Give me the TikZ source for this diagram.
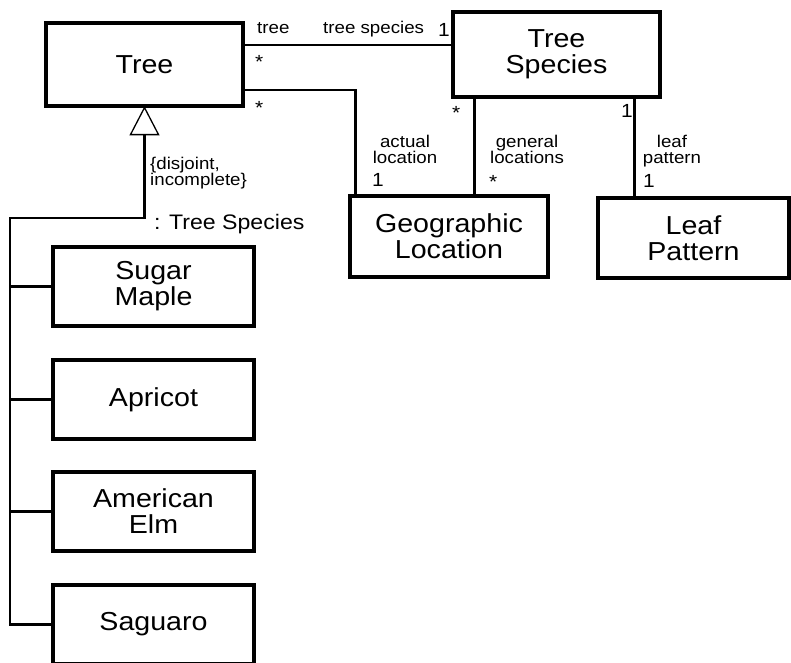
\documentclass[tikz,border=0pt]{standalone}
\usepackage{fontspec}
\setmainfont{Liberation Sans}[FakeStretch=1.1]
\usetikzlibrary{positioning}

\begin{document}
\begin{tikzpicture}[x=1pt, y=-1pt,
    cls/.style={rectangle, draw, line width=3.2pt, align=center,
                inner sep=0pt, font=\fontsize{26}{26}\selectfont},
    sub/.style={cls, minimum width=201pt, minimum height=79pt},
    lbl/.style={inner sep=0pt, align=center, font=\fontsize{17}{16}\selectfont},
    mult/.style={inner sep=0pt, font=\fontsize{19}{19}\selectfont},
    link/.style={line width=2.8pt},
    gen/.style={line width=2.4pt}
  ]
  \useasboundingbox (0,0) rectangle (791,662);
  \clip (0,0) rectangle (791,662);

  % Classes
  \node[cls, minimum width=197pt, minimum height=83pt] (tree) at (144.5,64.5) {Tree};
  \node[cls, minimum width=207pt, minimum height=85pt] (spec) at (556.5,54.5) {Tree\\Species};
  \node[cls, minimum width=198pt, minimum height=81pt] (geo)  at (449,236.5) {Geographic\\Location};
  \node[cls, minimum width=191pt, minimum height=80pt] (leaf) at (693.5,238) {Leaf\\Pattern};

  % Subclasses
  \node[sub] (maple)   at (153.5,286.5) {Sugar\\Maple};
  \node[sub] (apricot) at (153.5,399.5) {Apricot};
  \node[sub] (elm)     at (153.5,511.5) {American\\Elm};
  \node[sub] (saguaro) at (153.5,624.5) {Saguaro};

  % Associations
  \draw[link] ([yshift=19.5pt]tree.east) -- ([yshift=19.5pt]tree.east -| spec.west);
  \draw[link] ([yshift=-25.5pt]tree.east) -| ([xshift=7pt]geo.north west);
  \draw[link] ([xshift=23pt]spec.south west) -- ([xshift=23pt]spec.south west |- geo.north);
  \draw[link] ([xshift=-27pt]spec.south east) -- ([xshift=-27pt]spec.south east |- leaf.north);

  % Role names and multiplicities
  \node[lbl, anchor=base west] (rTree) at (257,33) {tree};
  \node[lbl, anchor=base west] (rSpec) at (323,33) {tree species};
  \node[mult, anchor=base west] (m1) at (438,36) {1};
  \node[mult, anchor=base west] (m2) at (255,68) {*};
  \node[mult, anchor=base west] (m3) at (255,114) {*};
  \node[lbl, anchor=base] (rActual) at (405,163) {actual\\location};
  \node[mult, anchor=base west] (m4) at (372,186) {1};
  \node[mult, anchor=base west] (m5) at (452,119) {*};
  \node[lbl, anchor=base] (rGeneral) at (527,163) {general\\locations};
  \node[mult, anchor=base west] (m6) at (489,188) {*};
  \node[mult, anchor=base west] (m7) at (621,117) {1};
  \node[lbl, anchor=base] (rLeaf) at (672,163) {leaf\\pattern};
  \node[mult, anchor=base west] (m8) at (643,187) {1};

  % Generalization
  \coordinate (tri) at ([yshift=-27pt]tree.south);
  \coordinate (trunk) at (10,218);
  \draw[line width=1.3pt] (tree.south) -- ([xshift=-14pt]tri) -- ([xshift=14pt]tri) -- cycle;
  \draw[gen] (tri) |- (trunk) |- (saguaro.west);
  \foreach \s in {maple, apricot, elm}
    \draw[gen] (\s.west) -- (trunk |- \s.west);
  \node[lbl, anchor=base west, align=left] (cons) at (150,185) {\{disjoint,\\incomplete\}};
  \node[anchor=base west, inner sep=0pt, font=\fontsize{21}{21}\selectfont] (disc) at (154,229) {: Tree Species};
\end{tikzpicture}
\end{document}
